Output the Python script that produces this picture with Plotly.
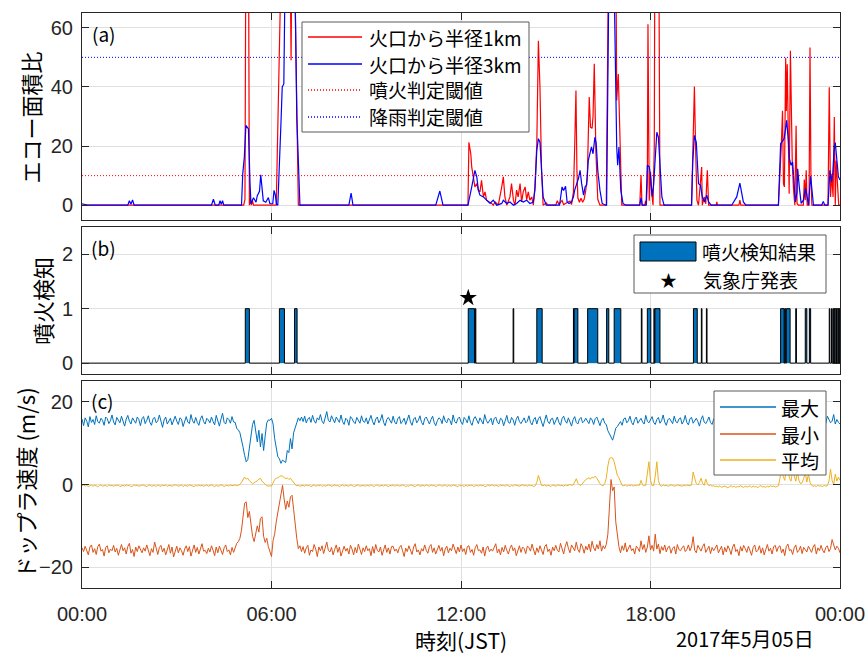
import plotly.graph_objects as go

# ---------------- (a) echo area ratio (hour, value) ----------------
R1_T = [0.0, 5.12, 5.16, 5.19, 5.27, 5.30, 5.33, 5.36, 5.40, 5.43,
        6.15, 6.33, 6.58, 6.62, 6.65, 6.71, 6.85,
        12.22, 12.25, 12.31, 12.34, 12.39, 12.44, 12.50, 12.55, 12.60, 12.65,
        12.71, 12.76, 12.81, 12.92, 12.97, 13.02, 13.08, 13.13, 13.18, 13.29,
        13.34, 13.39, 13.45, 13.55, 13.60, 13.66, 13.71, 13.76, 13.81, 13.87,
        13.92, 13.97, 14.03, 14.08, 14.13, 14.18, 14.24, 14.29, 14.34, 14.40,
        14.45, 14.50, 14.55, 14.60, 14.70, 14.75,
        15.00, 15.05, 15.10, 15.20, 15.25, 15.35, 15.45, 15.50, 15.56, 15.60,
        15.64, 15.67, 15.70, 15.75, 15.80, 15.85, 15.90, 15.95, 16.00, 16.06,
        16.10, 16.15, 16.18, 16.22, 16.27, 16.33, 16.40, 16.60, 16.68, 16.90,
        16.93, 16.98, 17.09,
        17.66, 17.70, 17.73, 17.82, 17.84, 17.87, 17.90, 17.92, 17.96, 18.00,
        18.04, 18.08, 18.12, 18.14, 18.26, 18.30,
        19.30, 19.39, 19.43, 19.47, 19.52, 19.56, 19.62, 19.64, 19.70, 19.75,
        19.80, 19.84, 20.08, 20.10, 20.12, 20.80, 20.83, 20.86,
        22.05, 22.14, 22.18, 22.21, 22.24, 22.28, 22.30, 22.33, 22.36, 22.39,
        22.43, 22.46, 22.49, 22.53, 22.57, 22.61, 22.64, 22.68, 22.84, 22.87,
        22.90, 22.93, 22.96, 23.02, 23.05, 23.08, 23.11, 23.62, 23.66, 23.70,
        23.74, 23.78, 23.82, 23.85, 23.88, 23.92, 23.96, 24.0]
R1_V = [0, 0, 2.0, 95, 95, 0, 2.5, 0, 1.5, 0,
        0, 95, 95, 49, 95, 95, 0,
        0, 21.3, 17.4, 12.9, 9.6, 6.2, 7.3, 5.1, 4.5, 8.4,
        2.8, 4.5, 1.7, 1.1, 0.6, 0, 1.1, 0.6, 0, 6.2,
        9.6, 2.8, 0, 2.8, 7.3, 1.7, 0, 5.1, 2.8, 7.3,
        1.1, 4.5, 6.2, 1.9, 4.5, 1.7, 2.8, 0, 6.2, 20.8,
        55.6, 39.9, 11.8, 0, 0.8, 0,
        0, 1.5, 0.3, 1.6, 0.2, 0.8, 1.4, 0.2, 4.5, 20.0,
        38.8, 12.0, 2.5, 1.0, 2.4, 1.0, 2.0, 5.0, 10.0, 36.6,
        26.4, 26.0, 30.0, 47.8, 18.5, 2.0, 0, 0, 95, 95,
        35.4, 44.4, 0,
        0, 10.1, 0, 0, 1.5, 0, 8.0, 61.2, 1.5, 11.2,
        4.0, 0, 20.0, 95, 95, 0,
        0, 40.1, 18.6, 1.7, 0, 5.1, 12.9, 0, 2.8, 0.5,
        11.8, 0, 0, 1.1, 0, 0, 1.7, 0,
        0, 19.7, 31.9, 7.3, 6.2, 49.9, 31.9, 47.7, 18.6, 3.9,
        52.2, 20.8, 13.8, 5.1, 0, 26.9, 0.6, 0, 0, 8.7,
        1.7, 11.8, 0, 0, 53.3, 9.6, 0, 0, 39.9, 2.8,
        10.6, 2.8, 29.8, 0, 15.1, 7.3, 0, 0]

R3_T = [0.0, 0.10, 0.20, 1.45, 1.50, 1.55, 1.60, 1.65,
        4.10, 4.16, 4.22, 4.33, 4.37, 4.41, 4.45, 4.49,
        5.05, 5.09, 5.14, 5.19, 5.27, 5.32, 5.35, 5.43, 5.51, 5.55,
        5.62, 5.66, 5.70, 5.74, 5.82, 5.90, 5.95, 6.04, 6.08, 6.12,
        6.16, 6.20, 6.30, 6.34, 6.39, 6.45, 6.72, 6.80, 6.90,
        8.45, 8.52, 8.58, 11.20, 11.33, 11.43,
        12.22, 12.34, 12.44, 12.50, 12.55, 12.60, 12.71, 12.81, 12.92, 13.02,
        13.13, 13.29, 13.34, 13.45, 13.55, 13.66, 13.76, 13.87, 13.97, 14.08,
        14.18, 14.29, 14.34, 14.40, 14.45, 14.50, 14.55, 14.60, 14.70, 15.12,
        15.20, 15.25, 15.31, 15.36, 15.42, 15.50, 15.56, 15.60, 15.72, 15.77,
        15.82, 15.88, 15.93, 15.98, 16.03, 16.08, 16.13, 16.18, 16.24, 16.28,
        16.33, 16.40, 16.47, 16.58, 16.61, 16.70, 16.82, 16.93, 16.96, 17.00,
        17.06, 17.13, 17.22,
        17.66, 17.70, 17.74, 17.86, 17.90, 17.96, 18.00, 18.05, 18.10, 18.14,
        18.20, 18.25, 18.30, 18.36, 18.43,
        19.30, 19.34, 19.39, 19.45, 19.48, 19.52, 19.58, 19.64, 19.71, 19.78,
        19.84, 19.92, 20.57, 20.73, 20.83, 20.88, 20.94, 21.02,
        22.05, 22.12, 22.18, 22.23, 22.27, 22.31, 22.36, 22.40, 22.45, 22.50,
        22.55, 22.59, 22.64, 22.66, 22.71, 22.77, 22.84, 22.91, 22.95, 23.00,
        23.07, 23.11, 23.16, 23.42, 23.47, 23.52, 23.62, 23.68, 23.73, 23.77,
        23.81, 23.85, 23.90, 23.95, 24.0]
R3_V = [0.5, 0.3, 0, 0, 1.5, 0.3, 1.8, 0,
        0, 2.0, 0, 0, 1.5, 0.3, 1.5, 0,
        0, 10.7, 16.3, 27.0, 25.8, 7.4, 0.5, 2.5, 1.0, 3.2,
        4.7, 10.3, 4.7, 1.5, 1.0, 2.6, 0.5, 0.5, 5.0, 3.5,
        0.3, 0, 28.0, 40.0, 41.0, 95, 95, 30.0, 0,
        0, 4.1, 0, 0, 4.8, 0,
        0, 6.2, 11.8, 9.6, 5.1, 3.4, 2.8, 1.7, 0.6, 1.7,
        0, 0.6, 1.7, 0.6, 1.1, 0, 0.6, 1.7, 1.1, 1.7,
        0.6, 1.1, 5.1, 18.5, 22.5, 21.3, 12.9, 2.8, 0, 0,
        6.2, 5.0, 6.4, 1.1, 0.6, 1.1, 2.8, 5.1, 9.1, 11.8,
        7.3, 3.4, 6.2, 6.8, 15.1, 17.4, 19.7, 17.4, 23.0, 21.0,
        11.8, 5.0, 0.6, 0, 0, 95, 95, 19.7, 13.5, 19.7,
        5.0, 0.6, 0,
        0, 2.5, 0, 0, 13.5, 13.0, 10.0, 3.0, 7.0, 15.2,
        24.7, 23.0, 11.8, 2.8, 0,
        0, 15.1, 23.6, 21.3, 15.1, 7.3, 6.8, 2.8, 1.1, 3.4,
        1.1, 0, 0, 2.8, 7.5, 5.0, 1.1, 0,
        0, 20.8, 21.9, 22.5, 25.3, 28.7, 22.5, 15.7, 13.5, 14.6,
        6.8, 1.1, 4.5, 12.3, 6.2, 0.6, 1.7, 5.6, 3.4, 0,
        9.8, 6.2, 0, 0, 1.3, 0, 0, 11.8, 7.9, 10.6,
        18.4, 21.2, 14.6, 9.6, 8.5]

ERUPT_TH = 10
RAIN_TH = 50

# ---------------- (b) eruption detection (start, end hour) ----------------
DETECT = [(5.17, 5.30), (6.25, 6.41), (6.73, 6.81),
          (12.23, 12.43), (12.45, 12.47), (13.65, 13.67), (14.40, 14.57),
          (15.56, 15.57), (15.58, 15.70), (16.01, 16.33), (16.61, 16.68),
          (16.85, 17.06), (17.71, 17.73), (17.90, 18.01), (18.11, 18.12),
          (18.14, 18.30), (19.36, 19.48), (19.61, 19.63), (19.77, 19.79),
          (22.12, 22.23), (22.25, 22.28), (22.30, 22.42), (22.60, 22.62),
          (22.90, 22.95), (23.03, 23.07), (23.66, 23.68), (23.73, 23.75),
          (23.78, 23.80), (23.83, 23.85), (23.89, 23.91), (23.94, 23.96),
          (23.99, 24.0)]
JMA_T = 12.23
JMA_Y = 1.2

# ---------------- (c) Doppler speed, 3-minute samples (one row per hour) ----------------
MAX_ROWS = [
    [15.8, 14.2, 16.1, 15.3, 13.9, 16.4, 15.0, 15.7, 14.5, 16.6, 15.2, 14.8, 16.0, 15.5, 14.3, 16.3, 15.9, 14.7, 15.4, 16.8],
    [15.1, 14.4, 16.2, 15.6, 14.9, 16.5, 15.0, 14.1, 15.8, 16.7, 15.3, 14.6, 16.1, 15.4, 14.8, 16.3, 15.7, 14.2, 15.9, 16.4],
    [14.7, 15.5, 16.6, 15.0, 14.3, 15.9, 16.2, 14.9, 15.4, 16.8, 15.1, 13.8, 15.6, 16.3, 14.6, 15.2, 16.0, 14.4, 15.7, 16.5],
    [15.3, 14.5, 16.1, 15.8, 14.0, 15.5, 16.4, 15.1, 14.7, 16.9, 15.4, 14.8, 16.2, 15.0, 14.3, 15.9, 16.6, 15.2, 14.6, 16.0],
    [15.6, 14.9, 16.3, 15.2, 14.4, 16.7, 15.5, 14.1, 15.8, 17.2, 15.0, 14.6, 16.1, 15.7, 14.8, 16.4, 15.1, 15.0, 13.5, 13.2],
    [12.5, 11.0, 9.0, 7.0, 5.5, 6.0, 9.0, 12.0, 14.5, 15.5, 13.0, 10.3, 13.1, 9.1, 12.3, 8.2, 11.7, 14.9, 15.6, 15.5],
    [16.0, 14.6, 11.1, 9.1, 6.7, 6.2, 5.1, 5.9, 5.5, 5.3, 8.2, 7.7, 11.1, 8.6, 12.5, 13.5, 14.9, 16.1, 15.4, 16.3],
    [15.2, 16.5, 14.9, 15.8, 16.2, 15.0, 16.7, 15.4, 14.8, 16.1, 15.6, 16.9, 15.3, 14.7, 16.4, 17.6, 15.5, 15.1, 16.6, 15.8],
    [14.9, 16.3, 15.7, 15.0, 16.8, 15.2, 14.5, 16.0, 15.6, 14.3, 16.4, 15.9, 15.1, 14.7, 16.2, 15.4, 14.8, 16.6, 15.3, 15.0],
    [16.1, 14.6, 15.5, 16.7, 15.2, 14.4, 15.8, 16.3, 14.9, 15.6, 16.9, 15.0, 14.2, 15.7, 16.2, 15.3, 14.8, 16.5, 15.1, 14.6],
    [15.9, 16.4, 14.7, 15.3, 16.0, 14.5, 15.6, 16.8, 15.1, 14.3, 15.8, 16.2, 14.9, 15.5, 16.6, 15.0, 14.4, 15.9, 16.3, 15.2],
    [14.6, 15.7, 16.5, 15.0, 14.2, 15.4, 16.1, 15.8, 14.7, 16.6, 15.3, 14.9, 16.0, 15.5, 14.4, 16.8, 15.2, 14.8, 15.9, 16.3],
    [15.1, 14.5, 16.2, 15.7, 14.9, 16.6, 15.0, 14.3, 15.8, 16.4, 15.4, 14.7, 16.1, 15.2, 14.6, 16.9, 15.5, 14.8, 15.6, 16.0],
    [14.4, 15.9, 16.3, 15.1, 14.6, 16.0, 15.7, 14.2, 15.4, 16.7, 15.0, 14.8, 16.2, 15.6, 14.3, 15.8, 16.5, 15.2, 14.7, 15.5],
    [16.1, 14.9, 15.3, 16.6, 15.0, 14.4, 15.7, 16.2, 14.6, 15.9, 16.4, 15.1, 14.0, 15.5, 16.8, 15.2, 14.7, 15.8, 16.0, 14.5],
    [15.6, 16.3, 15.0, 14.3, 15.9, 16.5, 15.4, 14.8, 16.1, 15.2, 14.1, 15.7, 16.4, 15.0, 14.6, 15.8, 16.2, 14.9, 15.3, 16.0],
    [15.4, 14.7, 16.1, 15.6, 14.5, 15.9, 16.3, 15.0, 14.2, 15.5, 16.0, 14.8, 14.5, 13.0, 12.2, 11.5, 10.7, 12.0, 13.6, 14.0],
    [14.6, 15.2, 14.3, 15.8, 16.1, 14.9, 15.4, 16.5, 15.0, 14.4, 15.7, 16.3, 14.8, 15.5, 16.0, 15.1, 14.6, 16.7, 15.3, 14.9],
    [15.9, 16.4, 15.0, 14.5, 15.7, 16.2, 14.8, 15.4, 16.8, 15.1, 14.3, 15.6, 16.0, 15.3, 14.7, 16.5, 15.2, 14.9, 15.8, 16.1],
    [14.6, 15.3, 16.7, 15.0, 14.4, 15.9, 16.2, 14.8, 15.5, 16.0, 15.2, 14.1, 15.7, 16.6, 15.1, 14.7, 15.4, 16.3, 15.0, 14.5],
    [15.8, 16.2, 14.9, 15.3, 16.5, 15.0, 14.6, 15.7, 16.1, 15.4, 14.8, 16.3, 15.1, 14.5, 15.9, 16.6, 15.2, 14.7, 15.5, 16.0],
    [15.3, 14.6, 16.0, 15.7, 14.9, 16.4, 15.1, 14.3, 15.8, 16.2, 15.0, 14.8, 16.5, 15.4, 14.5, 15.9, 16.1, 15.2, 14.7, 15.6],
    [16.2, 15.0, 14.4, 15.8, 16.6, 15.3, 14.8, 15.5, 16.0, 15.1, 14.6, 16.3, 15.7, 14.9, 15.4, 16.1, 15.0, 14.3, 15.9, 16.4],
    [15.2, 14.7, 16.0, 15.5, 14.9, 16.3, 15.1, 14.5, 15.8, 16.2, 15.4, 14.8, 16.5, 15.6, 14.9, 15.3, 16.9, 14.6, 15.7, 15.0],
]
MAX_LAST = 14.6

MIN_ROWS = [
    [-15.3, -16.2, -14.9, -15.8, -17.0, -15.1, -14.6, -16.4, -15.5, -16.9, -15.0, -14.4, -16.1, -15.7, -17.3, -15.2, -14.8, -16.5, -15.6, -16.0],
    [-14.7, -16.3, -15.4, -17.1, -15.9, -14.5, -16.0, -15.3, -16.8, -15.0, -14.2, -16.6, -15.7, -17.4, -15.1, -16.2, -14.8, -15.9, -16.5, -15.3],
    [-16.1, -14.6, -15.8, -17.2, -15.5, -16.4, -13.9, -15.7, -16.9, -15.2, -14.7, -16.3, -15.4, -17.0, -15.9, -14.5, -16.6, -15.1, -17.5, -15.8],
    [-14.9, -16.5, -15.3, -16.0, -17.1, -15.6, -14.8, -16.2, -15.0, -17.3, -15.7, -14.6, -16.4, -15.2, -16.8, -15.5, -14.3, -16.1, -15.9, -16.7],
    [-15.4, -16.3, -14.8, -15.9, -17.2, -15.1, -16.5, -14.9, -15.7, -16.9, -15.3, -14.6, -16.2, -15.8, -17.0, -15.2, -16.4, -15.0, -14.2, -13.8],
    [-13.0, -11.0, -7.0, -4.5, -4.2, -8.0, -6.5, -10.0, -12.5, -13.8, -12.0, -10.0, -11.5, -8.2, -7.8, -12.5, -14.0, -13.0, -15.0, -16.0],
    [-17.4, -13.5, -12.0, -9.0, -6.5, -4.0, -2.0, -0.2, -3.5, -6.0, -4.0, -5.5, -3.0, -2.6, -6.0, -10.0, -13.0, -15.5, -14.8, -16.2],
    [-15.0, -16.6, -15.3, -14.7, -17.1, -15.8, -16.2, -14.5, -15.6, -17.4, -15.1, -16.0, -14.8, -16.7, -15.4, -13.9, -15.9, -16.3, -15.2, -17.0],
    [-15.7, -14.6, -16.4, -15.1, -17.3, -15.9, -14.9, -16.1, -15.4, -16.8, -14.7, -15.6, -17.0, -15.2, -16.5, -14.4, -15.8, -16.9, -15.3, -16.2],
    [-14.8, -16.0, -15.5, -17.2, -15.0, -16.6, -14.5, -15.9, -16.3, -15.1, -17.1, -15.7, -14.6, -16.4, -15.3, -16.8, -15.0, -14.9, -16.1, -15.6],
    [-16.5, -15.2, -14.7, -16.0, -17.4, -15.4, -16.2, -14.8, -15.7, -16.9, -15.1, -14.3, -16.3, -15.8, -17.0, -15.5, -16.1, -14.6, -15.9, -16.6],
    [-15.0, -14.5, -16.4, -15.3, -16.8, -15.9, -14.7, -16.1, -15.2, -17.2, -15.6, -14.9, -16.5, -15.4, -16.0, -14.4, -15.8, -16.7, -15.1, -16.3],
    [-14.6, -16.2, -15.5, -16.9, -15.0, -14.8, -16.4, -15.7, -17.1, -15.3, -14.5, -16.0, -15.8, -16.6, -15.1, -17.3, -15.4, -14.9, -16.2, -15.6],
    [-16.1, -15.0, -14.3, -16.5, -15.6, -17.0, -15.2, -16.3, -14.7, -15.9, -16.8, -15.4, -14.6, -16.0, -15.3, -17.2, -15.8, -14.8, -16.4, -15.1],
    [-15.5, -16.7, -14.9, -15.2, -16.1, -14.4, -15.8, -17.0, -15.3, -16.4, -14.8, -15.7, -16.9, -15.0, -14.5, -16.2, -15.6, -17.1, -15.1, -16.0],
    [-14.7, -15.9, -16.3, -14.2, -15.6, -16.8, -15.0, -13.8, -15.4, -16.5, -14.6, -15.2, -16.0, -13.9, -15.7, -16.4, -14.3, -15.1, -16.6, -14.9],
    [-15.8, -14.4, -16.2, -13.7, -15.3, -16.0, -14.5, -15.6, -13.6, -16.1, -14.8, -15.5, -14.5, -12.0, -5.4, 1.2, -1.5, -0.6, -9.0, -12.6],
    [-15.0, -16.5, -14.8, -15.9, -14.1, -16.3, -15.2, -14.6, -16.0, -15.5, -16.8, -14.9, -15.4, -16.2, -13.6, -15.7, -14.5, -16.4, -15.1, -12.4],
    [-15.8, -14.7, -16.1, -12.0, -15.6, -14.4, -16.7, -15.0, -15.9, -14.6, -16.3, -15.2, -14.9, -16.6, -15.4, -15.0, -16.8, -14.5, -15.7, -16.0],
    [-15.3, -14.8, -16.2, -15.7, -14.6, -16.0, -15.1, -12.6, -15.9, -16.5, -14.7, -15.4, -16.1, -15.0, -14.3, -16.4, -15.6, -14.9, -16.7, -15.2],
    [-16.0, -15.3, -14.6, -16.5, -15.8, -14.9, -17.0, -15.2, -16.3, -14.8, -15.6, -16.9, -15.1, -14.4, -16.2, -15.7, -17.2, -15.0, -16.1, -14.7],
    [-15.5, -16.4, -14.9, -15.8, -17.1, -15.2, -14.6, -16.3, -15.9, -14.8, -16.6, -15.3, -17.0, -15.7, -14.5, -16.1, -15.4, -16.8, -15.0, -14.7],
    [-16.2, -15.1, -14.8, -16.5, -15.6, -17.2, -15.0, -14.4, -16.0, -15.7, -16.9, -15.3, -14.6, -16.4, -15.9, -14.9, -16.7, -15.2, -15.8, -16.3],
    [-14.9, -15.6, -16.4, -15.1, -14.5, -16.8, -15.3, -16.0, -14.7, -15.9, -16.5, -15.2, -14.8, -16.2, -15.5, -13.3, -14.6, -15.8, -14.9, -15.4],
]
MIN_LAST = -16.5

MEAN_ROWS = [
    [-0.3, -0.1, -0.4, -0.2, -0.5, -0.3, -0.1, -0.4, -0.2, -0.3, -0.6, -0.2, -0.1, -0.4, -0.3, -0.2, -0.5, -0.1, -0.3, -0.2],
    [-0.4, -0.2, -0.3, -0.1, -0.5, -0.3, -0.2, -0.4, -0.1, -0.3, -0.2, -0.5, -0.4, -0.1, -0.3, -0.2, -0.4, -0.3, -0.1, -0.2],
    [-0.3, -0.5, -0.2, -0.1, -0.4, -0.3, -0.2, -0.5, -0.1, -0.3, -0.4, -0.2, -0.3, -0.1, -0.5, -0.2, -0.3, -0.4, -0.2, -0.1],
    [-0.2, -0.4, -0.3, -0.1, -0.5, -0.2, -0.3, -0.4, -0.1, -0.2, -0.3, -0.5, -0.2, -0.4, -0.1, -0.3, -0.2, -0.4, -0.3, -0.1],
    [-0.4, -0.2, -0.1, -0.3, -0.5, -0.2, -0.4, -0.3, -0.1, -0.2, -0.5, -0.3, -0.2, -0.4, -0.1, -0.3, -0.2, -0.1, -0.3, -0.1],
    [0.0, 0.5, 1.2, 1.8, 1.3, 1.5, 0.9, 0.6, 0.2, 0.4, 0.6, 0.9, 1.3, 1.5, 0.8, 0.4, 0.0, -0.3, -0.4, -0.3],
    [-0.4, 0.5, 1.2, 1.5, 1.6, 1.9, 2.1, 2.0, 1.8, 1.4, 1.6, 1.2, 1.5, 1.0, 0.4, 0.0, -0.3, -0.2, -0.4, -0.3],
    [-0.2, -0.4, -0.1, -0.3, -0.2, -0.5, -0.3, -0.1, -0.4, -0.2, -0.3, -0.1, -0.5, -0.2, -0.4, -0.3, -0.1, -0.2, -0.4, -0.3],
    [-0.1, -0.3, -0.2, -0.5, -0.3, -0.1, -0.4, -0.2, -0.3, -0.4, -0.1, -0.2, -0.5, -0.3, -0.2, -0.1, -0.4, -0.3, -0.2, -0.4],
    [-0.3, -0.2, -0.4, -0.1, -0.3, -0.5, -0.2, -0.1, -0.4, -0.3, -0.2, -0.4, -0.1, -0.3, -0.5, -0.2, -0.3, -0.1, -0.4, -0.2],
    [-0.2, -0.4, -0.3, -0.1, -0.2, -0.5, -0.3, -0.4, -0.1, -0.2, -0.3, -0.5, -0.2, -0.1, -0.4, -0.3, -0.2, -0.4, -0.1, -0.3],
    [-0.4, -0.1, -0.3, -0.2, -0.5, -0.3, -0.1, -0.2, -0.4, -0.3, -0.1, -0.5, -0.2, -0.3, -0.4, -0.1, -0.2, -0.3, -0.5, -0.2],
    [-0.3, -0.2, -0.5, -0.1, -0.4, -0.2, -0.3, -0.1, -0.5, -0.3, -0.2, -0.4, -0.1, -0.3, -0.2, -0.5, -0.4, -0.1, -0.3, -0.2],
    [-0.1, -0.4, -0.2, -0.3, -0.5, -0.1, -0.3, -0.2, -0.4, -0.1, -0.3, -0.5, -0.2, -0.4, -0.1, -0.2, -0.3, -0.4, -0.2, -0.1],
    [-0.3, -0.2, -0.4, -0.1, -0.3, -0.2, -0.5, -0.3, 0.5, 2.2, 1.0, -0.2, -0.3, -0.1, -0.4, -0.2, -0.3, -0.5, -0.1, -0.2],
    [-0.4, -0.2, -0.1, -0.3, -0.2, -0.4, -0.1, -0.3, -0.2, 0.0, -0.2, -0.1, 0.6, 1.4, 0.3, -0.1, -0.2, 0.3, 0.7, 1.2],
    [1.4, 1.6, 1.3, 1.8, 1.6, 2.0, 1.5, 0.8, 0.2, -0.2, -0.3, 0.2, 1.5, 4.5, 6.3, 6.5, 6.4, 5.5, 3.5, 2.2],
    [1.6, 0.6, -0.2, -0.3, -0.1, -0.4, -0.2, -0.3, -0.1, -0.4, -0.2, -0.3, -0.1, -0.2, 1.0, -0.1, -0.3, -0.2, 3.5, 5.5],
    [1.0, -0.2, -0.3, 2.0, 5.5, 1.0, -0.2, -0.4, -0.1, -0.3, -0.2, -0.4, -0.3, -0.1, -0.2, -0.4, -0.3, -0.1, -0.2, -0.3],
    [-0.4, -0.2, -0.3, -0.1, -0.2, -0.3, -0.1, 3.0, 1.5, 0.2, -0.1, 0.5, 1.5, 0.3, -0.2, 1.3, 0.2, -0.3, -0.1, -0.4],
    [-0.3, -0.5, -0.4, -0.6, -0.3, -0.7, -0.5, -0.4, -0.6, -0.8, -0.5, -0.3, -0.6, -0.4, -0.7, -0.5, -0.6, -0.3, -0.5, -0.7],
    [-0.4, -0.6, -0.5, -0.3, -0.7, -0.4, -0.6, -0.5, -0.8, -0.4, -0.3, -0.6, -0.5, -0.7, -0.4, -0.6, -0.3, -0.5, -0.4, -0.6],
    [-0.5, -0.3, 1.5, 4.0, 2.0, 1.0, 3.5, 4.5, 1.5, 0.8, 3.5, 2.0, 0.8, 3.0, 1.0, 0.2, 0.4, 1.5, 2.8, 0.6],
    [2.5, 0.5, -0.2, -0.4, -0.3, -0.5, -0.2, -0.4, -0.3, -0.5, -0.2, -0.4, -0.3, 0.8, 3.7, 1.0, 0.0, 2.5, 0.8, 1.8],
]
MEAN_LAST = 1.0

TICK_HOURS = [0, 6, 12, 18, 24]
TICK_TEXT = ["00:00", "06:00", "12:00", "18:00", "00:00"]

# ---------------- styling ----------------
W, H = 867, 655
L, R, T, B = 82, 27, 13, 67
PW, PH = W - L - R, H - T - B
AX = "#262626"
GRID = "#E0E0E0"
JP = "Noto Sans CJK JP"
NUM = "Liberation Sans, Arial, sans-serif"
C_RED, C_BLUE = "#FF0000", "#0000FF"
C_MAX, C_MIN, C_MEAN = "#0072BD", "#D95319", "#EDB120"
LW = 1.2


def px(x):
    return (x - L) / PW


def py(y):
    return (H - B - y) / PH


def hourly(rows, last):
    """Flatten hourly rows of 3-minute samples into (time, value) lists."""
    ts, vs = [], []
    for h, row in enumerate(rows):
        for k, v in enumerate(row):
            ts.append(h + k / len(row))
            vs.append(v)
    ts.append(float(len(rows)))
    vs.append(last)
    return ts, vs


t_max, speed_max = hourly(MAX_ROWS, MAX_LAST)
t_min, speed_min = hourly(MIN_ROWS, MIN_LAST)
t_mean, speed_mean = hourly(MEAN_ROWS, MEAN_LAST)

# step outline of the detection result
det_x, det_y = [0.0], [0]
for s, e in DETECT:
    det_x += [s, s, e, e]
    det_y += [0, 1, 1, 0]
det_x.append(24.0)
det_y.append(0)

fig = go.Figure()
fig.add_trace(go.Scatter(x=R1_T, y=R1_V, mode="lines", line=dict(color=C_RED, width=LW),
                         xaxis="x", yaxis="y", showlegend=False))
fig.add_trace(go.Scatter(x=R3_T, y=R3_V, mode="lines", line=dict(color=C_BLUE, width=LW),
                         xaxis="x", yaxis="y", showlegend=False))
fig.add_trace(go.Scatter(x=[0, 24], y=[ERUPT_TH, ERUPT_TH], mode="lines",
                         line=dict(color=C_RED, width=1, dash="1px,2px"),
                         xaxis="x", yaxis="y", showlegend=False))
fig.add_trace(go.Scatter(x=[0, 24], y=[RAIN_TH, RAIN_TH], mode="lines",
                         line=dict(color=C_BLUE, width=1, dash="1px,2px"),
                         xaxis="x", yaxis="y", showlegend=False))

fig.add_trace(go.Scatter(x=det_x, y=det_y, mode="lines", fill="tozeroy",
                         fillcolor="#0072BD", line=dict(color="black", width=1),
                         xaxis="x2", yaxis="y2", showlegend=False))
fig.add_trace(go.Scatter(x=[JMA_T], y=[JMA_Y], mode="markers",
                         marker=dict(symbol="star", size=13, color="black"),
                         xaxis="x2", yaxis="y2", showlegend=False))

for tt, vals, col in ((t_max, speed_max, C_MAX), (t_min, speed_min, C_MIN),
                      (t_mean, speed_mean, C_MEAN)):
    fig.add_trace(go.Scatter(x=tt, y=vals, mode="lines", line=dict(color=col, width=1),
                             xaxis="x3", yaxis="y3", showlegend=False))

xcommon = dict(range=[0, 24], tickvals=TICK_HOURS, ticktext=TICK_TEXT, automargin=False,
               showgrid=True, gridcolor=GRID, gridwidth=1, zeroline=False,
               ticks="inside", ticklen=7, tickcolor=AX, showline=True,
               linecolor=AX, linewidth=1, mirror="ticks",
               tickfont=dict(family=NUM, size=20, color=AX))
ycommon = dict(showgrid=True, gridcolor=GRID, gridwidth=1, zeroline=False, automargin=False,
               ticks="inside", ticklen=7, tickcolor=AX, showline=True,
               linecolor=AX, linewidth=1, mirror="ticks",
               tickfont=dict(family=NUM, size=20, color=AX), ticklabelstandoff=4)

fig.update_layout(
    template="none",
    width=W, height=H, margin=dict(l=L, r=R, t=T, b=B, autoexpand=False),
    paper_bgcolor="white", plot_bgcolor="white",
    xaxis=dict(xcommon, anchor="y", showticklabels=False),
    xaxis2=dict(xcommon, anchor="y2", showticklabels=False),
    xaxis3=dict(xcommon, anchor="y3", ticklabelstandoff=8),
    yaxis=dict(ycommon, domain=[py(220), 1.0], anchor="x", range=[-5, 65],
               tickvals=[0, 20, 40, 60]),
    yaxis2=dict(ycommon, domain=[py(374), py(227)], anchor="x2", range=[-0.2, 2.5],
                tickvals=[0, 1, 2]),
    yaxis3=dict(ycommon, domain=[0.0, py(381)], anchor="x3", range=[-25, 25],
                tickvals=[-20, 0, 20]),
)

shapes = []
ann = []


def text(x, y, s, size=19, anchor="left", family=JP, angle=0):
    ann.append(dict(x=px(x), y=py(y), xref="paper", yref="paper", text=s,
                    showarrow=False, xanchor=anchor, yanchor="middle",
                    textangle=angle, font=dict(family=family, size=size, color="black")))


def box(x0, y0, x1, y1):
    shapes.append(dict(type="rect", xref="paper", yref="paper", x0=px(x0), x1=px(x1),
                       y0=py(y1), y1=py(y0), fillcolor="white",
                       line=dict(color="#5A5A5A", width=1), layer="above"))


def sample(x0, x1, y, color, dash="solid"):
    shapes.append(dict(type="line", xref="paper", yref="paper", x0=px(x0), x1=px(x1),
                       y0=py(y), y1=py(y), line=dict(color=color, width=1.3, dash=dash),
                       layer="above"))


# legend (a)
box(302, 22, 529, 132)
rows_a = [(C_RED, "solid", "火口から半径1km", 37),
          (C_BLUE, "solid", "火口から半径3km", 64),
          (C_RED, "1px,2px", "噴火判定閾値", 90),
          (C_BLUE, "1px,2px", "降雨判定閾値", 117)]
for col, dash, label, yy in rows_a:
    sample(308, 362, yy, col, dash)
    text(367, yy, label)

# legend (b)
box(634, 235, 826, 293)
shapes.append(dict(type="rect", xref="paper", yref="paper", x0=px(640), x1=px(696),
                   y0=py(261), y1=py(242), fillcolor="#0072BD",
                   line=dict(color="black", width=1), layer="above"))
text(700, 251, "噴火検知結果")
text(668, 279, "★", size=17, anchor="center")
text(701, 279, "気象庁発表")

# legend (c)
box(714, 391, 826, 475)
for col, label, yy in ((C_MAX, "最大", 407), (C_MIN, "最小", 434), (C_MEAN, "平均", 460)):
    sample(720, 776, yy, col)
    text(779, yy, label)

# panel tags
text(90, 33, "(a)")
text(89, 247, "(b)")
text(89, 401, "(c)")

# axis titles
text(29, 117.5, "エコー面積比", size=22, anchor="center", angle=-90)
text(42, 301, "噴火検知", size=22, anchor="center", angle=-90)
text(24, 483.5, "ドップラ速度 (m/s)", size=22, anchor="center", angle=-90)
text(461, 640, "時刻(JST)", size=21, anchor="center")
text(816, 638, "2017年5月05日", size=20, anchor="right")

fig.update_layout(shapes=shapes, annotations=ann)
fig.write_html("out.html")
